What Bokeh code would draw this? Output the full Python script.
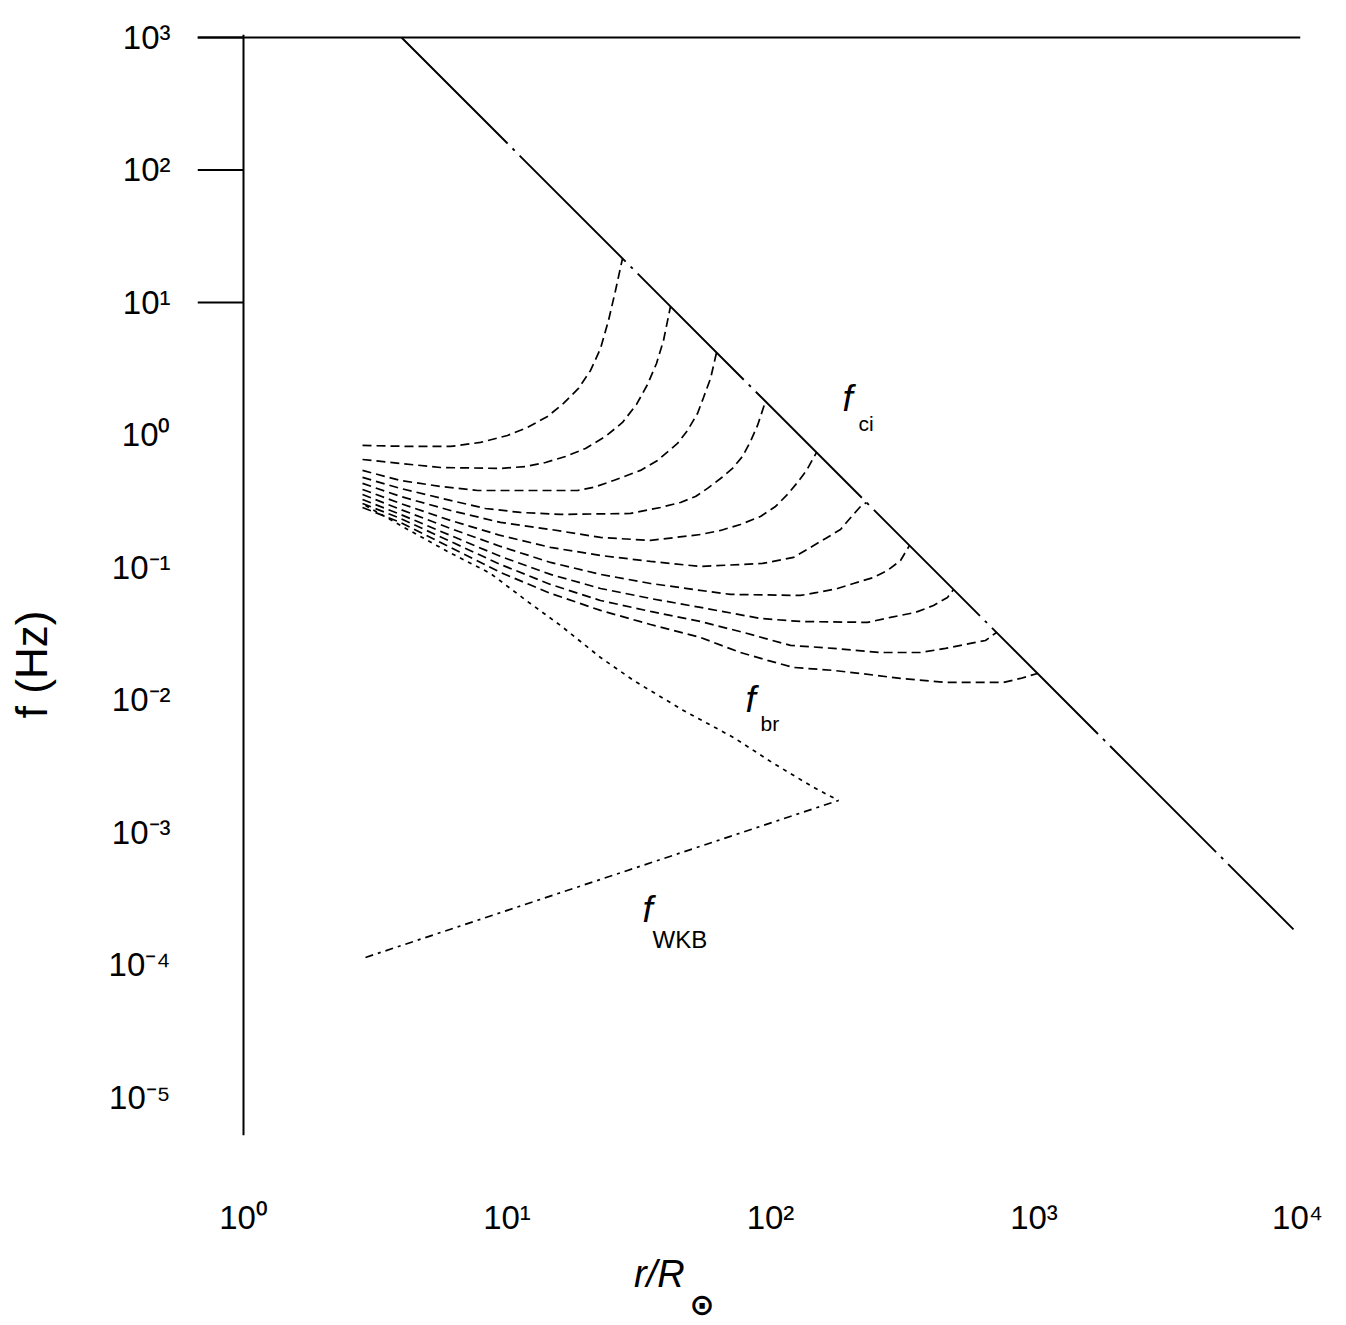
from bokeh.plotting import figure
from bokeh.models import Range1d, FixedTicker, CustomJSTickFormatter, Span, Label, LogAxis
from bokeh.embed import file_html
from bokeh.resources import INLINE

# ---------------- data (log-log axes) ----------------
# ion-cyclotron frequency line f_ci
r_ci = [3.978, 9656]
f_ci = [1000, 1.853e-4]

# f_br line
r_br = [2.904, 3.943, 5.944, 8.658, 11.96, 15.96, 22.64, 30.21, 46.73, 72.37, 102.7, 145.6, 181.2]
f_br = [0.2937, 0.2075, 0.1321, 0.0901, 0.0554, 0.0365, 0.0209, 0.01404, 0.00833, 0.00521, 0.00332, 0.00219, 0.001744]

# f_WKB line
r_wkb = [2.904, 181.2]
f_wkb = [1.139e-4, 1.744e-3]

# family of dashed curves (1 = top-left ... 10 = bottom-right)
r_c1 = [2.829, 4.303, 6.103, 7.933, 10.04, 11.96, 14.25, 16.38, 18.67, 20.75, 22.64, 24.28, 25.81, 27.44]
f_c1 = [0.833, 0.819, 0.819, 0.878, 0.991, 1.139, 1.379, 1.729, 2.243, 3.068, 4.496, 7.314, 12.32, 21.48]

r_c2 = [2.829, 3.943, 5.594, 9.448, 11.75, 14.00, 16.67, 19.86, 23.65, 27.44, 31.01, 34.14, 36.93, 39.26, 41.73]
f_c2 = [0.653, 0.609, 0.568, 0.559, 0.578, 0.620, 0.688, 0.791, 0.974, 1.243, 1.699, 2.405, 3.464, 5.167, 9.33]

r_c3 = [2.829, 3.943, 5.594, 7.727, 12.28, 18.52, 21.30, 25.36, 32.11, 37.26, 44.37, 48.42, 52.85, 55.70, 59.22, 62.41]
f_c3 = [0.540, 0.453, 0.409, 0.381, 0.381, 0.381, 0.402, 0.453, 0.540, 0.642, 0.863, 1.081, 1.453, 1.919, 2.669, 4.194]

r_c4 = [2.829, 3.943, 6.103, 8.287, 11.25, 15.96, 29.43, 38.24, 45.55, 51.94, 57.68, 64.61, 71.75, 78.28, 83.95, 89.28, 95.72]
f_c4 = [0.478, 0.395, 0.3204, 0.2787, 0.2601, 0.2512, 0.2556, 0.2836, 0.3094, 0.3435, 0.395, 0.469, 0.559, 0.688, 0.893, 1.180, 1.789]

r_c5 = [2.829, 3.943, 6.103, 9.448, 14.63, 22.64, 35.04, 54.26, 64.61, 76.92, 91.63, 104.5, 116.0, 126.6, 137.0, 149.5]
f_c5 = [0.431, 0.3435, 0.2692, 0.2186, 0.1935, 0.1684, 0.1599, 0.1774, 0.1902, 0.2111, 0.2426, 0.2886, 0.3555, 0.438, 0.540, 0.738]

r_c6 = [2.829, 3.943, 6.103, 9.448, 14.63, 22.64, 35.04, 54.26, 93.25, 122.3, 141.8, 161.8, 184.4, 204.8, 219.6, 231.4]
f_c6 = [0.388, 0.3041, 0.2263, 0.1744, 0.1416, 0.1232, 0.1110, 0.1017, 0.1072, 0.1190, 0.1416, 0.1655, 0.1935, 0.2469, 0.2886, 0.3094]

r_c7 = [2.829, 3.943, 6.103, 9.448, 14.63, 22.64, 35.04, 54.26, 70.50, 130.0, 150.8, 179.6, 206.5, 246.0, 278.0, 311.5, 337.0]
f_c7 = [0.3555, 0.2740, 0.1969, 0.1441, 0.1091, 0.0886, 0.0757, 0.0671, 0.0626, 0.0615, 0.0648, 0.0694, 0.0757, 0.0840, 0.0949, 0.1129, 0.1466]

r_c8 = [2.829, 3.943, 6.103, 9.448, 14.63, 22.64, 35.04, 54.26, 91.63, 130.0, 233.4, 285.4, 355.1, 415.6, 469.6, 494.9]
f_c8 = [0.3260, 0.2512, 0.1744, 0.1211, 0.0886, 0.0694, 0.0583, 0.0499, 0.0412, 0.0391, 0.0385, 0.0420, 0.0458, 0.0516, 0.0594, 0.0682]

r_c9 = [2.829, 3.943, 6.103, 9.448, 14.63, 22.64, 35.04, 54.26, 78.97, 119.1, 173.4, 261.5, 371.0, 461.5, 574.1, 654.6, 720.4]
f_c9 = [0.3041, 0.2343, 0.1571, 0.1053, 0.0744, 0.0563, 0.0466, 0.0391, 0.0323, 0.0258, 0.0245, 0.0228, 0.0228, 0.0245, 0.0267, 0.0281, 0.0323]

r_c10 = [2.829, 3.943, 6.103, 9.448, 14.63, 22.64, 35.04, 54.26, 76.92, 97.41, 122.3, 173.4, 219.6, 311.5, 461.5, 766.0, 888.8, 1031]
f_c10 = [0.2836, 0.2186, 0.1416, 0.0917, 0.0637, 0.0474, 0.0371, 0.0296, 0.0228, 0.0199, 0.0176, 0.0167, 0.01585, 0.01453, 0.01356, 0.01356, 0.01453, 0.01585]

x_ticks = [1, 10, 100, 1000, 10000]
y_ticks = [1e-5, 1e-4, 1e-3, 1e-2, 1e-1, 1, 10, 100, 1000]
y_marked_ticks = [10, 100, 1000]

# ---------------- figure ----------------
XMIN, XMAX = 0.669, 10266
YMIN, YMAX = 5.16e-6, 1053
NBSP = "\u00a0"

p = figure(width=1330, height=1325, x_axis_type="log", y_axis_type="log",
           x_range=Range1d(XMIN, XMAX), y_range=Range1d(YMIN, YMAX),
           output_backend="svg", toolbar_location=None,
           min_border_left=197, min_border_right=30, min_border_top=34, min_border_bottom=190)
p.outline_line_color = None
p.xgrid.visible = False
p.ygrid.visible = False
p.background_fill_color = "white"
p.border_fill_color = "white"

fmt = CustomJSTickFormatter(code="""
const sup = {"0":"\u2070","1":"\u00b9","2":"\u00b2","3":"\u00b3","4":"\u2074","5":"\u2075",
             "6":"\u2076","7":"\u2077","8":"\u2078","9":"\u2079","-":"\u207b"};
const e = Math.round(Math.log10(tick));
return "10" + String(e).split("").map(c => sup[c]).join("");
""")

for ax, ticks, standoff in ((p.xaxis[0], x_ticks, 63), (p.yaxis[0], y_ticks, 27)):
    ax.ticker = FixedTicker(ticks=ticks, minor_ticks=[])
    ax.formatter = fmt
    ax.axis_line_color = None
    ax.major_tick_line_color = None
    ax.minor_tick_line_color = None
    ax.major_tick_out = 0
    ax.major_tick_in = 0
    ax.minor_tick_out = 0
    ax.minor_tick_in = 0
    ax.major_label_standoff = standoff
    ax.major_label_text_font = "Liberation Sans"
    ax.major_label_text_font_size = "33px"
    ax.major_label_text_color = "black"
    ax.axis_label_text_color = "black"
    ax.axis_label_text_font = "Liberation Sans"

# axis titles (padding with no-break spaces moves them off-centre as in the reference)
p.yaxis[0].axis_label = "f (Hz)" + NBSP * 13
p.yaxis[0].axis_label_text_font_size = "44px"
p.yaxis[0].axis_label_text_font_style = "normal"
p.yaxis[0].axis_label_standoff = 50

p.xaxis[0].axis_label = "r/R" + NBSP * 17
p.xaxis[0].axis_label_text_font_size = "38px"
p.xaxis[0].axis_label_text_font_style = "italic"
p.xaxis[0].axis_label_standoff = 14

sun_axis = LogAxis(ticker=FixedTicker(ticks=[], minor_ticks=[]), axis_label="\u2299" + NBSP * 9,
                   axis_line_color=None, major_tick_line_color=None, minor_tick_line_color=None,
                   major_tick_out=0, major_tick_in=0, minor_tick_out=0, minor_tick_in=0,
                   major_label_standoff=0, major_label_text_font_size="0px", axis_label_standoff=-11,
                   axis_label_text_font="DejaVu Sans", axis_label_text_font_size="30px",
                   axis_label_text_font_style="bold", axis_label_text_color="black")
p.add_layout(sun_axis, "below")

# frame lines: y axis at r = 1 and the top line at f = 10^3
p.add_layout(Span(location=1, dimension="height", line_color="black", line_width=2))
p.add_layout(Span(location=1000, dimension="width", line_color="black", line_width=2))
p.segment(x0=[XMIN] * len(y_marked_ticks), y0=y_marked_ticks, x1=[1] * len(y_marked_ticks),
          y1=y_marked_ticks, line_color="black", line_width=2)

# curves
p.line(r_ci, f_ci, line_color="black", line_width=1.9, line_dash="150 7 3 7")
p.line(r_br, f_br, line_color="black", line_width=1.7, line_dash="4 5")
p.line(r_wkb, f_wkb, line_color="black", line_width=1.7, line_dash="8 5 3 5")

for rr, ff in ((r_c1, f_c1), (r_c2, f_c2), (r_c3, f_c3), (r_c4, f_c4), (r_c5, f_c5),
               (r_c6, f_c6), (r_c7, f_c7), (r_c8, f_c8), (r_c9, f_c9), (r_c10, f_c10)):
    p.line(rr, ff, line_color="black", line_width=1.7, line_dash="9 5")

# curve labels
def add_f_label(x_f, y_f, x_s, y_s, sub, sub_size):
    p.add_layout(Label(x=x_f, y=y_f, text="f", text_font="Liberation Sans", text_font_style="italic",
                       text_font_size="37px", text_color="black", text_baseline="alphabetic"))
    p.add_layout(Label(x=x_s, y=y_s, text=sub, text_font="Liberation Sans",
                       text_font_size=sub_size, text_color="black", text_baseline="alphabetic"))

add_f_label(187.6, 1.886, 215.8, 1.220, "ci", "21px")
add_f_label(80.4, 0.01009, 91.6, 0.00664, "br", "21px")
add_f_label(32.68, 2.624e-4, 35.66, 1.557e-4, "WKB", "24px")

open("out.html", "w").write(file_html(p, INLINE))
